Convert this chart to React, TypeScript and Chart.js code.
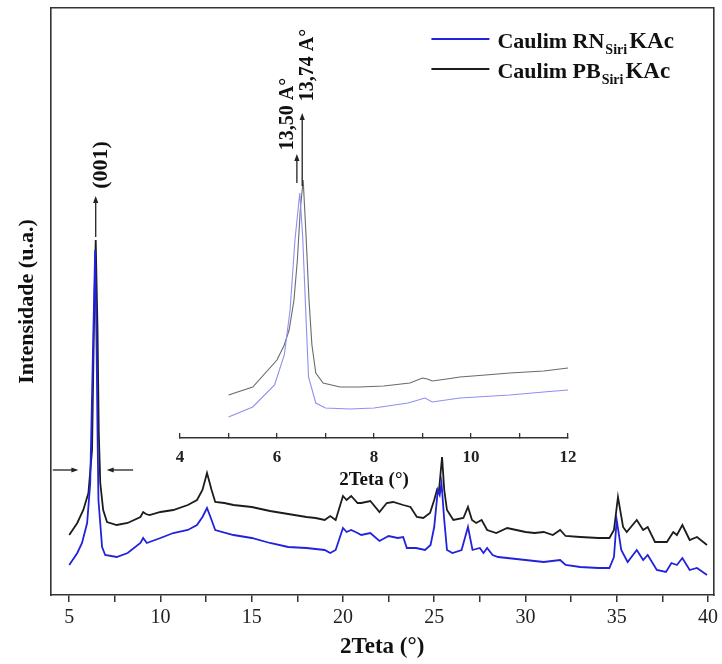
import React, { useEffect, useRef } from "react";
import { Chart, registerables } from "chart.js";

Chart.register(...registerables);

const SERIF = "'Liberation Serif', 'Times New Roman', serif";

// ---- Main XRD pattern (2θ in degrees, intensity in arbitrary units) ----
const rnX = [5.0, 5.44, 5.7, 5.98, 6.15, 6.3, 6.42, 6.5, 6.55, 6.6, 6.8, 6.97, 7.6, 8.2, 8.9, 9.05, 9.25, 10.0, 10.7, 11.5, 12.0, 12.3, 12.55, 12.8, 13.0, 14.0, 15.0, 16.0, 17.0, 18.0, 19.0, 19.3, 19.6, 20.0, 20.2, 20.45, 20.8, 21.0, 21.5, 22.0, 22.5, 23.0, 23.3, 23.5, 24.0, 24.5, 24.8, 25.0, 25.2, 25.3, 25.4, 25.55, 25.7, 26.0, 26.5, 26.85, 27.1, 27.5, 27.7, 27.9, 28.2, 28.5, 29.0, 30.0, 31.0, 31.9, 32.2, 33.0, 34.0, 34.6, 34.85, 35.0, 35.25, 35.6, 36.1, 36.45, 36.7, 37.2, 37.7, 38.0, 38.3, 38.6, 39.0, 39.4, 39.95];
const rnY = [30, 42, 52, 72, 112, 245, 345, 245, 162, 95, 48, 40, 38, 42, 52, 57, 52, 57, 62, 65, 70, 78, 87, 75, 65, 60, 57, 52, 48, 47, 45, 42, 45, 67, 63, 65, 62, 60, 62, 54, 59, 57, 58, 47, 47, 45, 50, 68, 105, 100, 112, 75, 45, 42, 45, 68, 45, 47, 42, 47, 40, 38, 37, 35, 33, 35, 30, 28, 27, 27, 38, 75, 45, 33, 45, 35, 40, 25, 23, 32, 30, 37, 25, 27, 20];

const pbX = [5.0, 5.44, 5.77, 6.05, 6.25, 6.35, 6.45, 6.55, 6.62, 6.7, 6.86, 7.07, 7.6, 8.2, 8.9, 9.05, 9.2, 9.4, 10.0, 10.7, 11.5, 12.0, 12.3, 12.55, 12.8, 13.0, 13.5, 14.0, 15.0, 16.0, 17.0, 18.0, 18.5, 19.0, 19.3, 19.6, 20.0, 20.2, 20.45, 20.8, 21.0, 21.5, 22.0, 22.4, 22.75, 23.3, 23.7, 24.05, 24.4, 24.77, 25.0, 25.15, 25.25, 25.43, 25.55, 25.7, 26.05, 26.6, 26.85, 27.07, 27.3, 27.6, 27.9, 28.4, 29.0, 29.5, 30.0, 30.5, 31.0, 31.5, 31.9, 32.2, 33.0, 34.0, 34.6, 34.85, 35.07, 35.35, 35.55, 36.1, 36.45, 36.7, 37.1, 37.75, 38.1, 38.3, 38.6, 39.0, 39.4, 39.95];
const pbY = [60, 72, 85, 102, 145, 265, 355, 265, 162, 112, 85, 73, 70, 72, 78, 83, 81, 80, 83, 85, 90, 95, 105, 122, 105, 93, 92, 90, 88, 84, 81, 78, 77, 75, 79, 75, 99, 95, 99, 92, 92, 94, 83, 92, 93, 90, 88, 78, 77, 82, 95, 105, 102, 138, 105, 85, 75, 77, 88, 75, 72, 75, 65, 62, 67, 65, 63, 62, 63, 60, 65, 59, 58, 57, 57, 65, 98, 68, 63, 75, 65, 68, 53, 53, 63, 60, 70, 55, 58, 50];

// ---- Inset (zoom on the (001) reflection) ----
const insetRnX = [5.0, 5.5, 5.95, 6.15, 6.27, 6.37, 6.47, 6.53, 6.6, 6.65, 6.8, 7.0, 7.5, 8.0, 8.7, 9.05, 9.2, 9.77, 10.8, 11.5, 12.0];
const insetRnY = [21, 31, 53, 83, 128, 198, 245, 201, 118, 61, 35, 30, 29, 30, 35, 40, 36, 40, 43, 46, 48];
const insetPbX = [5.0, 5.5, 6.0, 6.15, 6.25, 6.35, 6.42, 6.48, 6.54, 6.6, 6.66, 6.72, 6.8, 6.95, 7.3, 7.7, 8.2, 8.74, 9.0, 9.1, 9.2, 9.5, 9.77, 10.3, 10.8, 11.5, 12.0];
const insetPbY = [43, 51, 78, 93, 108, 138, 178, 228, 258, 201, 138, 93, 65, 55, 51, 51, 52, 55, 60, 59, 57, 59, 61, 63, 65, 67, 70];

// ---- Ticks ----
const mainTicks = [5, 7.5, 10, 12.5, 15, 17.5, 20, 22.5, 25, 27.5, 30, 32.5, 35, 37.5, 40];
const insetTicks = [4, 5, 6, 7, 8, 9, 10, 11, 12];

// ---- Labels ----
const legendMain = ["Caulim RN", "Caulim PB"];
const legendSub = "Siri";
const legendSuffix = "KAc";
const seriesColors = ["#2222dc", "#1c1c1c"];
const insetColors = ["#8f8ff0", "#6a6a6a"];
const peakLabel = "(001)";
const insetPeakLabels = ["13,50 A°", "13,74 A°"];

const AXIS = "#333";

function toPts(xs: number[], ys: number[]) {
  return xs.map((x, i) => ({ x, y: ys[i] }));
}

function arrow(ctx: CanvasRenderingContext2D, x1: number, y1: number, x2: number, y2: number, color = "#222") {
  const ang = Math.atan2(y2 - y1, x2 - x1);
  const hl = 7;
  const hw = 2.6;
  ctx.save();
  ctx.strokeStyle = color;
  ctx.fillStyle = color;
  ctx.lineWidth = 1.3;
  ctx.beginPath();
  ctx.moveTo(x1, y1);
  ctx.lineTo(x2 - Math.cos(ang) * hl * 0.6, y2 - Math.sin(ang) * hl * 0.6);
  ctx.stroke();
  ctx.beginPath();
  ctx.moveTo(x2, y2);
  ctx.lineTo(x2 - Math.cos(ang) * hl - Math.sin(ang) * hw, y2 - Math.sin(ang) * hl + Math.cos(ang) * hw);
  ctx.lineTo(x2 - Math.cos(ang) * hl + Math.sin(ang) * hw, y2 - Math.sin(ang) * hl - Math.cos(ang) * hw);
  ctx.closePath();
  ctx.fill();
  ctx.restore();
}

function vText(ctx: CanvasRenderingContext2D, text: string, cx: number, cy: number, font: string) {
  ctx.save();
  ctx.translate(cx, cy);
  ctx.rotate(-Math.PI / 2);
  ctx.font = font;
  ctx.fillStyle = "#111";
  ctx.textAlign = "center";
  ctx.textBaseline = "middle";
  ctx.fillText(text, 0, 0);
  ctx.restore();
}

const mainAnno = {
  id: "mainAnno",
  afterDatasetsDraw(chart: any) {
    const { ctx, scales } = chart;
    const x = scales.x;
    const y = scales.y;
    // (001) arrow and label
    const px = x.getPixelForValue(6.45);
    arrow(ctx, px, y.getPixelForValue(358), px, y.getPixelForValue(399));
    vText(ctx, peakLabel, x.getPixelForValue(6.75), y.getPixelForValue(430), `bold 22px ${SERIF}`);
    // horizontal arrows around the peak
    arrow(ctx, x.getPixelForValue(4.1), y.getPixelForValue(125), x.getPixelForValue(5.5), y.getPixelForValue(125));
    arrow(ctx, x.getPixelForValue(8.5), y.getPixelForValue(125), x.getPixelForValue(7.05), y.getPixelForValue(125));

    // legend
    const ca = chart.chartArea;
    const lx0 = ca.right - 282;
    const lx1 = ca.right - 224;
    const tx = ca.right - 216;
    const rows = [48, 78];
    ctx.save();
    for (let i = 0; i < 2; i++) {
      const base = rows[i];
      ctx.strokeStyle = seriesColors[i];
      ctx.lineWidth = 2;
      ctx.beginPath();
      ctx.moveTo(lx0, base - 9);
      ctx.lineTo(lx1, base - 9);
      ctx.stroke();
      ctx.fillStyle = "#111";
      ctx.textAlign = "left";
      ctx.textBaseline = "alphabetic";
      ctx.font = `bold 22px ${SERIF}`;
      ctx.fillText(legendMain[i], tx, base);
      let cx = tx + ctx.measureText(legendMain[i]).width + 1;
      ctx.font = `bold 14px ${SERIF}`;
      ctx.fillText(legendSub, cx, base + 6);
      cx += ctx.measureText(legendSub).width + 2;
      ctx.font = `bold 23px ${SERIF}`;
      ctx.fillText(legendSuffix, cx, base);
    }
    ctx.restore();
  },
};

const insetAnno = {
  id: "insetAnno",
  afterDatasetsDraw(chart: any) {
    const { ctx, scales } = chart;
    const x = scales.x;
    const y = scales.y;
    const a1 = x.getPixelForValue(6.41);
    arrow(ctx, a1, y.getPixelForValue(255), a1, y.getPixelForValue(284));
    const a2 = x.getPixelForValue(6.52);
    arrow(ctx, a2, y.getPixelForValue(252), a2, y.getPixelForValue(325));
    vText(ctx, insetPeakLabels[0], x.getPixelForValue(6.23), y.getPixelForValue(324), `bold 20px ${SERIF}`);
    vText(ctx, insetPeakLabels[1], x.getPixelForValue(6.63), y.getPixelForValue(373), `bold 20px ${SERIF}`);
  },
};

export default function App() {
  const mainRef = useRef<HTMLCanvasElement>(null);
  const insetRef = useRef<HTMLCanvasElement>(null);

  useEffect(() => {
    if (!mainRef.current || !insetRef.current) return;
    const main = new Chart(mainRef.current, {
      type: "line",
      data: {
        datasets: [
          {
            label: "Caulim RN Siri KAc",
            data: toPts(rnX, rnY),
            borderColor: seriesColors[0],
            borderWidth: 1.8,
            pointRadius: 0,
            tension: 0,
          },
          {
            label: "Caulim PB Siri KAc",
            data: toPts(pbX, pbY),
            borderColor: seriesColors[1],
            borderWidth: 1.8,
            pointRadius: 0,
            tension: 0,
          },
        ],
      },
      options: {
        responsive: false,
        animation: false,
        devicePixelRatio: 1,
        layout: { padding: { top: 8, right: 8, left: 0, bottom: 0 } },
        plugins: { legend: { display: false }, tooltip: { enabled: false } },
        scales: {
          x: {
            type: "linear",
            position: "bottom",
            min: 4,
            max: 40.3,
            afterBuildTicks: (s: any) => {
              s.ticks = mainTicks.map((v) => ({ value: v }));
            },
            afterFit: (s: any) => {
              s.height = 69;
            },
            ticks: {
              autoSkip: false,
              maxRotation: 0,
              padding: 4,
              color: "#222",
              font: { family: SERIF, size: 20 },
              callback: (v: any) => (Number(v) % 5 === 0 ? String(v) : ""),
            },
            grid: { display: true, drawOnChartArea: false, tickLength: 7, color: AXIS, lineWidth: 1.5 },
            border: { display: true, color: AXIS, width: 1.6 },
            title: {
              display: true,
              text: "2Teta (°)",
              color: "#111",
              font: { family: SERIF, size: 23, weight: "bold" },
              padding: { top: 0, bottom: 3 },
            },
          },
          x2: {
            type: "linear",
            position: "top",
            display: true,
            min: 0,
            max: 1,
            afterFit: (s: any) => {
              s.height = 0;
            },
            ticks: { display: false },
            grid: { display: false, drawTicks: false },
            border: { display: true, color: AXIS, width: 1.6 },
          },
          y: {
            type: "linear",
            position: "left",
            min: 0,
            max: 587,
            afterFit: (s: any) => {
              s.width = 51;
            },
            ticks: { display: false },
            grid: { display: false, drawTicks: false },
            border: { display: true, color: AXIS, width: 1.6 },
            title: {
              display: true,
              text: "Intensidade (u.a.)",
              color: "#111",
              font: { family: SERIF, size: 22, weight: "bold" },
              padding: { top: 14, bottom: 0 },
            },
          },
          y2: {
            type: "linear",
            position: "right",
            display: true,
            min: 0,
            max: 1,
            afterFit: (s: any) => {
              s.width = 0;
            },
            ticks: { display: false },
            grid: { display: false, drawTicks: false },
            border: { display: true, color: AXIS, width: 1.6 },
          },
        },
      },
      plugins: [mainAnno],
    } as any);

    const inset = new Chart(insetRef.current, {
      type: "line",
      data: {
        datasets: [
          {
            label: "RN",
            data: toPts(insetRnX, insetRnY),
            borderColor: insetColors[0],
            borderWidth: 1.1,
            pointRadius: 0,
            tension: 0,
          },
          {
            label: "PB",
            data: toPts(insetPbX, insetPbY),
            borderColor: insetColors[1],
            borderWidth: 1.1,
            pointRadius: 0,
            tension: 0,
          },
        ],
      },
      options: {
        responsive: false,
        animation: false,
        devicePixelRatio: 1,
        layout: { padding: { top: 140, right: 25, left: 25, bottom: 0 } },
        plugins: { legend: { display: false }, tooltip: { enabled: false } },
        scales: {
          x: {
            type: "linear",
            position: "bottom",
            min: 4,
            max: 12,
            afterBuildTicks: (s: any) => {
              s.ticks = insetTicks.map((v) => ({ value: v }));
            },
            afterFit: (s: any) => {
              s.height = 57;
            },
            ticks: {
              autoSkip: false,
              maxRotation: 0,
              padding: 14,
              color: "#222",
              font: { family: SERIF, size: 17, weight: "bold" },
              callback: (v: any) => (Number(v) % 2 === 0 ? String(v) : ""),
            },
            grid: { display: true, drawOnChartArea: false, tickLength: -5, color: AXIS, lineWidth: 1.3 },
            border: { display: true, color: AXIS, width: 1.5 },
            title: {
              display: true,
              text: "2Teta (°)",
              color: "#111",
              font: { family: SERIF, size: 19, weight: "bold" },
              padding: { top: 0, bottom: 4 },
            },
          },
          y: {
            type: "linear",
            display: false,
            min: 0,
            max: 278,
          },
        },
      },
      plugins: [insetAnno],
    } as any);

    return () => {
      main.destroy();
      inset.destroy();
    };
  }, []);

  return (
    <div style={{ position: "absolute", left: 0, top: 0, width: 722, height: 664, background: "#fff" }}>
      <canvas ref={mainRef} width={722} height={664} style={{ position: "absolute", left: 0, top: 0 }} />
      <canvas ref={insetRef} width={438} height={475} style={{ position: "absolute", left: 155, top: 20 }} />
    </div>
  );
}
